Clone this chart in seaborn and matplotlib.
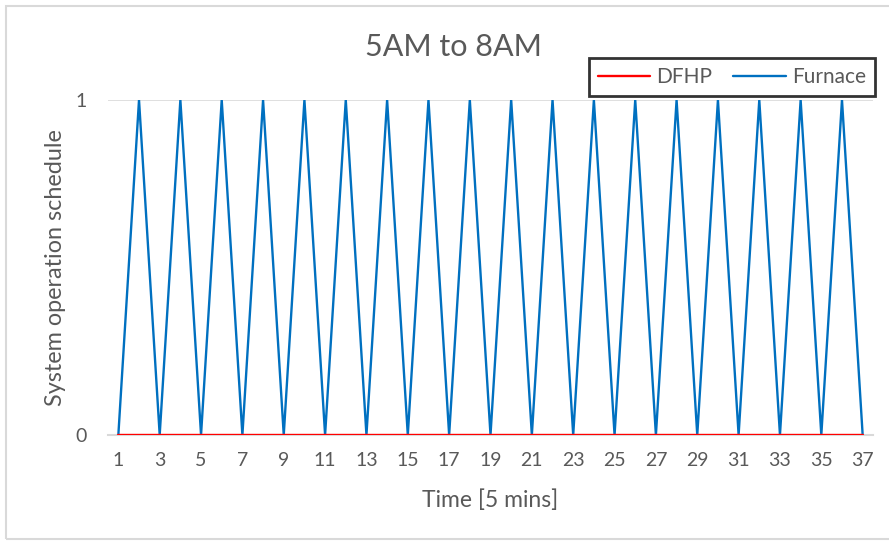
import matplotlib
matplotlib.use("Agg")
import matplotlib.pyplot as plt
import matplotlib.patches as mpatches
import seaborn as sns
import pandas as pd

time_steps = list(range(1, 38))
furnace = [0, 1, 0, 1, 0, 1, 0, 1, 0, 1, 0, 1, 0, 1, 0, 1, 0, 1, 0,
           1, 0, 1, 0, 1, 0, 1, 0, 1, 0, 1, 0, 1, 0, 1, 0, 1, 0]
dfhp = [0] * 37
x_ticks = list(range(1, 38, 2))
y_ticks = [0, 1]

df = pd.DataFrame({
    "Time": time_steps * 2,
    "Value": dfhp + furnace,
    "Series": ["DFHP"] * 37 + ["Furnace"] * 37,
})

sns.set_theme(style="white")
plt.rcParams['font.family'] = ['Lato', 'DejaVu Sans']

fig = plt.figure(figsize=(8.89, 5.42), dpi=100)
ax = fig.add_axes([108/889, 1-435/542, (873-108)/889, (435-100)/542])

palette = {"DFHP": "#FF0000", "Furnace": "#0070C0"}
sns.lineplot(data=df, x="Time", y="Value", hue="Series", palette=palette,
             linewidth=1.7, ax=ax, legend=True, hue_order=["Furnace", "DFHP"])
for line in ax.get_lines():
    c = matplotlib.colors.to_hex(line.get_color())
    if c.lower() == "#ff0000":
        line.set_zorder(5)

ax.set_xlim(0.5, 37.5)
ax.set_ylim(0, 1)
ax.set_xticks(x_ticks)
ax.set_xticklabels([str(t) for t in x_ticks])
ax.set_yticks(y_ticks)
ax.set_yticklabels([str(t) for t in y_ticks])
ax.tick_params(axis='both', length=0, labelsize=14, labelcolor='#595959')
ax.tick_params(axis='x', pad=12)
ax.tick_params(axis='y', pad=15)

for s in ["top", "right", "left"]:
    ax.spines[s].set_visible(False)
ax.spines["bottom"].set_color("#D9D9D9")
ax.spines["bottom"].set_linewidth(1.5)
ax.axhline(1, color="#D9D9D9", linewidth=1.2, zorder=0)

ax.set_xlabel("Time [5 mins]", fontsize=16.5, color="#595959")
ax.set_ylabel("System operation schedule", fontsize=16.8, color="#595959")
ax.xaxis.set_label_coords(0.5, (435-500)/335)
ax.yaxis.set_label_coords((56-108)/765, 0.5)
ax.xaxis.label.set_va("center")
ax.yaxis.label.set_va("center")
fig.text(453/889, 1-47/542, "5AM to 8AM", ha="center", va="center",
         fontsize=22, color="#595959")

handles, labels = ax.get_legend_handles_labels()
order = [labels.index("DFHP"), labels.index("Furnace")]
leg = ax.legend([handles[i] for i in order], [labels[i] for i in order],
                ncol=2, loc="center", bbox_to_anchor=((732-108)/765, (435-77)/335),
                frameon=True, fancybox=False, fontsize=15, handlelength=2.5,
                columnspacing=1.0, handletextpad=0.3, borderpad=0.45,
                borderaxespad=0)
leg.get_frame().set_edgecolor("black")
leg.get_frame().set_linewidth(2)
for t in leg.get_texts():
    t.set_color("#595959")
leg.set_zorder(10)

fig.patches.append(mpatches.Rectangle((6/889, 0.005), 1.2, 1-6/542-0.005,
                                      transform=fig.transFigure, fill=False,
                                      edgecolor="#D9D9D9", linewidth=1.5))

fig.savefig("out.png", dpi=100)
